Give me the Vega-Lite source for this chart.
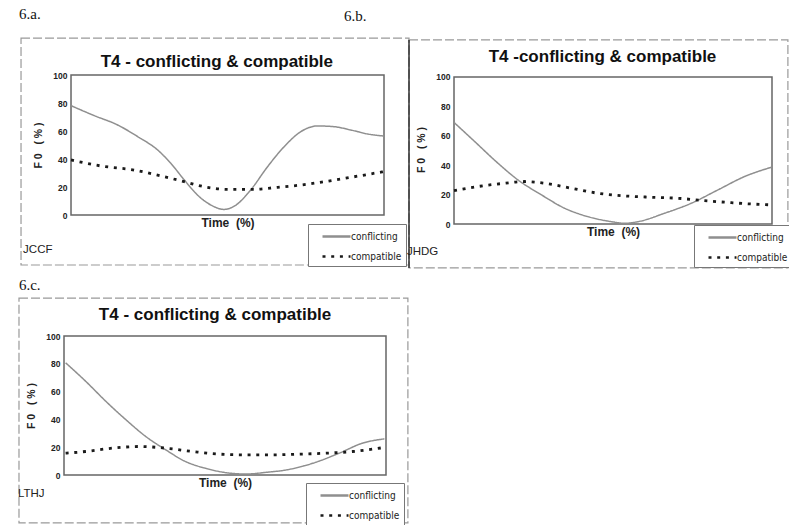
{
  "$schema": "https://vega.github.io/schema/vega-lite/v6.json",
  "background": "white",
  "padding": {"left": 17, "top": 7, "right": 0, "bottom": 0},
  "datasets": {
    "a": [
      {"time": 0, "f0": 78.1, "series": "conflicting"}, {"time": 7.4, "f0": 71, "series": "conflicting"}, {"time": 14.9, "f0": 64.3, "series": "conflicting"}, {"time": 21.3, "f0": 56, "series": "conflicting"}, {"time": 27.7, "f0": 46.4, "series": "conflicting"}, {"time": 31.9, "f0": 36.9, "series": "conflicting"}, {"time": 36.2, "f0": 25, "series": "conflicting"}, {"time": 40.4, "f0": 14.3, "series": "conflicting"}, {"time": 44.7, "f0": 7.1, "series": "conflicting"}, {"time": 48.9, "f0": 4, "series": "conflicting"}, {"time": 52.7, "f0": 7.1, "series": "conflicting"}, {"time": 57.4, "f0": 17.9, "series": "conflicting"}, {"time": 62.8, "f0": 34.5, "series": "conflicting"}, {"time": 68.1, "f0": 48.8, "series": "conflicting"}, {"time": 73.4, "f0": 59.5, "series": "conflicting"}, {"time": 78.7, "f0": 63.6, "series": "conflicting"}, {"time": 84, "f0": 63.1, "series": "conflicting"}, {"time": 89.4, "f0": 60.7, "series": "conflicting"}, {"time": 94.7, "f0": 57.9, "series": "conflicting"}, {"time": 100, "f0": 56.4, "series": "conflicting"},
      {"time": 0, "f0": 39.3, "series": "compatible"}, {"time": 9.6, "f0": 35, "series": "compatible"}, {"time": 20.2, "f0": 32.1, "series": "compatible"}, {"time": 28.7, "f0": 27.9, "series": "compatible"}, {"time": 36.2, "f0": 23.8, "series": "compatible"}, {"time": 42.6, "f0": 20.2, "series": "compatible"}, {"time": 50, "f0": 18.3, "series": "compatible"}, {"time": 58.5, "f0": 18.3, "series": "compatible"}, {"time": 66, "f0": 19.8, "series": "compatible"}, {"time": 73.4, "f0": 21.4, "series": "compatible"}, {"time": 80.9, "f0": 23.8, "series": "compatible"}, {"time": 89.4, "f0": 26.9, "series": "compatible"}, {"time": 97.9, "f0": 30.2, "series": "compatible"}, {"time": 100, "f0": 31, "series": "compatible"}
    ],
    "b": [
      {"time": 0, "f0": 69.1, "series": "conflicting"}, {"time": 6.5, "f0": 56.1, "series": "conflicting"}, {"time": 13.8, "f0": 41.4, "series": "conflicting"}, {"time": 20.1, "f0": 30, "series": "conflicting"}, {"time": 27.5, "f0": 19.8, "series": "conflicting"}, {"time": 34.8, "f0": 10.7, "series": "conflicting"}, {"time": 42.1, "f0": 5, "series": "conflicting"}, {"time": 49.5, "f0": 1.6, "series": "conflicting"}, {"time": 53.7, "f0": 0.5, "series": "conflicting"}, {"time": 57.9, "f0": 1.6, "series": "conflicting"}, {"time": 66.2, "f0": 7.3, "series": "conflicting"}, {"time": 74.6, "f0": 14.1, "series": "conflicting"}, {"time": 83, "f0": 23.2, "series": "conflicting"}, {"time": 91.4, "f0": 32.3, "series": "conflicting"}, {"time": 99.8, "f0": 38.6, "series": "conflicting"},
      {"time": 0, "f0": 22.7, "series": "compatible"}, {"time": 7.5, "f0": 25.5, "series": "compatible"}, {"time": 15.9, "f0": 27.7, "series": "compatible"}, {"time": 22.2, "f0": 28.9, "series": "compatible"}, {"time": 28.5, "f0": 27.7, "series": "compatible"}, {"time": 36.9, "f0": 24.3, "series": "compatible"}, {"time": 45.3, "f0": 20.9, "series": "compatible"}, {"time": 53.7, "f0": 19.1, "series": "compatible"}, {"time": 62.1, "f0": 18.2, "series": "compatible"}, {"time": 70.4, "f0": 17.5, "series": "compatible"}, {"time": 78.8, "f0": 15.9, "series": "compatible"}, {"time": 87.2, "f0": 14.5, "series": "compatible"}, {"time": 93.5, "f0": 13.6, "series": "compatible"}, {"time": 99.8, "f0": 13, "series": "compatible"}
    ],
    "c": [
      {"time": 0.5, "f0": 80.7, "series": "conflicting"}, {"time": 6.7, "f0": 67.5, "series": "conflicting"}, {"time": 13, "f0": 53, "series": "conflicting"}, {"time": 19.2, "f0": 39.8, "series": "conflicting"}, {"time": 25.4, "f0": 27.7, "series": "conflicting"}, {"time": 31.6, "f0": 18.1, "series": "conflicting"}, {"time": 37.8, "f0": 9.6, "series": "conflicting"}, {"time": 44, "f0": 4.8, "series": "conflicting"}, {"time": 50.3, "f0": 1.7, "series": "conflicting"}, {"time": 56.5, "f0": 0.7, "series": "conflicting"}, {"time": 62.7, "f0": 1.9, "series": "conflicting"}, {"time": 68.9, "f0": 3.6, "series": "conflicting"}, {"time": 77.2, "f0": 8.4, "series": "conflicting"}, {"time": 85.5, "f0": 15.7, "series": "conflicting"}, {"time": 92.7, "f0": 22.9, "series": "conflicting"}, {"time": 99.5, "f0": 26, "series": "conflicting"},
      {"time": 0.5, "f0": 15.7, "series": "compatible"}, {"time": 6.7, "f0": 16.9, "series": "compatible"}, {"time": 15, "f0": 19.3, "series": "compatible"}, {"time": 23.3, "f0": 20.5, "series": "compatible"}, {"time": 31.6, "f0": 19.3, "series": "compatible"}, {"time": 39.9, "f0": 16.9, "series": "compatible"}, {"time": 48.2, "f0": 15, "series": "compatible"}, {"time": 56.5, "f0": 14.5, "series": "compatible"}, {"time": 64.8, "f0": 14.5, "series": "compatible"}, {"time": 73.1, "f0": 15, "series": "compatible"}, {"time": 81.3, "f0": 15.7, "series": "compatible"}, {"time": 89.6, "f0": 16.9, "series": "compatible"}, {"time": 99.5, "f0": 19.8, "series": "compatible"}
    ]
  },
  "columns": 2,
  "bounds": "flush",
  "spacing": {"row": 112, "column": 68},
  "resolve": {
    "scale": {"x": "independent", "y": "independent", "color": "independent", "strokeDash": "independent"},
    "legend": {"color": "independent", "strokeDash": "independent"}
  },
  "config": {
    "view": {"stroke": null},
    "font": "Liberation Sans",
    "axis": {"grid": false, "domain": false, "ticks": false},
    "axisY": {"values": [0, 20, 40, 60, 80, 100], "labelFontSize": 8.5, "labelFontWeight": "bold", "labelColor": "#222", "labelPadding": 4, "titleFontSize": 10.5, "titleFontWeight": "bold", "titleColor": "#222", "titlePadding": 9},
    "axisX": {"labels": false, "titleFontSize": 12, "titleFontWeight": "bold", "titleColor": "#222", "titlePadding": 2},
    "legend": {"orient": "none", "strokeColor": "#777", "fillColor": "white", "padding": 4, "symbolType": "M-2,0H2", "symbolSize": 196, "symbolStrokeWidth": 2.4, "labelFontSize": 10, "labelColor": "#222", "labelFont": "Liberation Sans Narrow, DejaVu Sans Condensed, Liberation Sans", "rowPadding": 6, "symbolOffset": 16, "labelOffset": 6}
  },
  "concat": [
    {
      "width": 320, "height": 140,
      "layer": [
        {"data": {"values": [{}]}, "mark": {"type": "rect", "fillOpacity": 0, "stroke": "#999", "strokeWidth": 1.2, "strokeDash": [9, 3]},
         "encoding": {"x": {"datum": -15.97, "type": "quantitative"}, "x2": {"datum": 107.99}, "y": {"datum": 126.4, "type": "quantitative"}, "y2": {"datum": -35.7}}},
        {"data": {"values": [{}]}, "mark": {"type": "rect", "fillOpacity": 0, "stroke": "#666", "strokeWidth": 1.5},
         "encoding": {"x": {"datum": 0, "type": "quantitative"}, "x2": {"datum": 100}, "y": {"datum": 0, "type": "quantitative"}, "y2": {"datum": 100}}},
        {"data": {"name": "a"}, "mark": {"type": "line", "interpolate": "monotone", "strokeCap": "butt"},
         "encoding": {
           "x": {"field": "time", "type": "quantitative", "scale": {"domain": [-2.24, 100], "nice": false, "zero": false}, "axis": {"title": "Time\u00a0\u00a0(%)", "titleX": 163.5}},
           "y": {"field": "f0", "type": "quantitative", "scale": {"domain": [0, 100], "nice": false}, "axis": {"title": "F\u00a00\u00a0\u00a0\u00a0(\u00a0%\u00a0)", "offset": -7}},
           "color": {"field": "series", "type": "nominal", "scale": {"domain": ["conflicting", "compatible"], "range": ["#8f8f8f", "#1a1a1a"]}, "legend": {"title": null, "legendX": 244, "legendY": 149}},
           "strokeDash": {"field": "series", "type": "nominal", "scale": {"domain": ["conflicting", "compatible"], "range": [[1, 0], [3, 5.7]]}, "legend": {"title": null, "legendX": 244, "legendY": 149}},
           "strokeWidth": {"condition": {"test": "datum.series === 'compatible'", "value": 2.8}, "value": 1.5}
         }},
        {"data": {"values": [{}]}, "mark": {"type": "text", "fontSize": 17, "fontWeight": "bold", "color": "#111", "align": "center", "baseline": "alphabetic"},
         "encoding": {"x": {"datum": 46.6, "type": "quantitative"}, "y": {"datum": 105.9, "type": "quantitative"}, "text": {"value": "T4 - conflicting & compatible"}}},
        {"data": {"values": [{}]}, "mark": {"type": "text", "fontSize": 11.5, "color": "#222", "align": "left", "baseline": "alphabetic"},
         "encoding": {"x": {"datum": -15.3, "type": "quantitative"}, "y": {"datum": -27.1, "type": "quantitative"}, "text": {"value": "JCCF"}}},
        {"data": {"values": [{}]}, "mark": {"type": "text", "fontSize": 15, "font": "Liberation Serif", "color": "#111", "align": "left", "baseline": "alphabetic"},
         "encoding": {"x": {"datum": -16.6, "type": "quantitative"}, "y": {"datum": 140, "type": "quantitative"}, "text": {"value": "6.a."}}},
        {"data": {"values": [{}]}, "mark": {"type": "text", "fontSize": 15, "font": "Liberation Serif", "color": "#111", "align": "left", "baseline": "alphabetic"},
         "encoding": {"x": {"datum": 87.2, "type": "quantitative"}, "y": {"datum": 138.6, "type": "quantitative"}, "text": {"value": "6.b."}}}
      ]
    },
    {
      "width": 318, "height": 149,
      "layer": [
        {"data": {"values": [{}]}, "mark": {"type": "rect", "fillOpacity": 0, "stroke": "#999", "strokeWidth": 1.2, "strokeDash": [9, 3]},
         "encoding": {"x": {"datum": -14.15, "type": "quantitative"}, "x2": {"datum": 105.0}, "y": {"datum": 125.2, "type": "quantitative"}, "y2": {"datum": -29.9}}},
        {"data": {"values": [{}]}, "mark": {"type": "rule", "stroke": "#333", "strokeWidth": 1.5},
         "encoding": {"x": {"datum": -14.15, "type": "quantitative"}, "y": {"datum": 125.2, "type": "quantitative"}, "y2": {"datum": -29.9}}},
        {"data": {"values": [{}]}, "mark": {"type": "rect", "fillOpacity": 0, "stroke": "#666", "strokeWidth": 1.5},
         "encoding": {"x": {"datum": 0, "type": "quantitative"}, "x2": {"datum": 100}, "y": {"datum": 0, "type": "quantitative"}, "y2": {"datum": 100}}},
        {"data": {"name": "b"}, "mark": {"type": "line", "interpolate": "monotone", "strokeCap": "butt"},
         "encoding": {
           "x": {"field": "time", "type": "quantitative", "scale": {"domain": [0, 100], "nice": false, "zero": false}, "axis": {"title": "Time\u00a0\u00a0(%)"}},
           "y": {"field": "f0", "type": "quantitative", "scale": {"domain": [0, 101.36], "nice": false}, "axis": {"title": "F\u00a00\u00a0\u00a0\u00a0(\u00a0%\u00a0)"}},
           "color": {"field": "series", "type": "nominal", "scale": {"domain": ["conflicting", "compatible"], "range": ["#8f8f8f", "#1a1a1a"]}, "legend": {"title": null, "legendX": 240, "legendY": 150}},
           "strokeDash": {"field": "series", "type": "nominal", "scale": {"domain": ["conflicting", "compatible"], "range": [[1, 0], [3, 5.7]]}, "legend": {"title": null, "legendX": 240, "legendY": 150}},
           "strokeWidth": {"condition": {"test": "datum.series === 'compatible'", "value": 2.8}, "value": 1.5}
         }},
        {"data": {"values": [{}]}, "mark": {"type": "text", "fontSize": 17, "fontWeight": "bold", "color": "#111", "align": "center", "baseline": "alphabetic"},
         "encoding": {"x": {"datum": 46.7, "type": "quantitative"}, "y": {"datum": 110.4, "type": "quantitative"}, "text": {"value": "T4 -conflicting & compatible"}}},
        {"data": {"values": [{}]}, "mark": {"type": "text", "fontSize": 11.5, "color": "#222", "align": "left", "baseline": "alphabetic"},
         "encoding": {"x": {"datum": -14.8, "type": "quantitative"}, "y": {"datum": -21.1, "type": "quantitative"}, "text": {"value": "JHDG"}}}
      ]
    },
    {
      "width": 322, "height": 139,
      "layer": [
        {"data": {"values": [{}]}, "mark": {"type": "rect", "fillOpacity": 0, "stroke": "#999", "strokeWidth": 1.2, "strokeDash": [9, 3]},
         "encoding": {"x": {"datum": -13.98, "type": "quantitative"}, "x2": {"datum": 106.8}, "y": {"datum": 127.3, "type": "quantitative"}, "y2": {"datum": -34.5}}},
        {"data": {"values": [{}]}, "mark": {"type": "rect", "fillOpacity": 0, "stroke": "#666", "strokeWidth": 1.5},
         "encoding": {"x": {"datum": 0, "type": "quantitative"}, "x2": {"datum": 100}, "y": {"datum": 0, "type": "quantitative"}, "y2": {"datum": 100}}},
        {"data": {"name": "c"}, "mark": {"type": "line", "interpolate": "monotone", "strokeCap": "butt"},
         "encoding": {
           "x": {"field": "time", "type": "quantitative", "scale": {"domain": [0, 100], "nice": false, "zero": false}, "axis": {"title": "Time\u00a0\u00a0(%)"}},
           "y": {"field": "f0", "type": "quantitative", "scale": {"domain": [0, 100], "nice": false}, "axis": {"title": "F\u00a00\u00a0\u00a0\u00a0(\u00a0%\u00a0)"}},
           "color": {"field": "series", "type": "nominal", "scale": {"domain": ["conflicting", "compatible"], "range": ["#8f8f8f", "#1a1a1a"]}, "legend": {"title": null, "legendX": 242, "legendY": 147}},
           "strokeDash": {"field": "series", "type": "nominal", "scale": {"domain": ["conflicting", "compatible"], "range": [[1, 0], [3, 5.7]]}, "legend": {"title": null, "legendX": 242, "legendY": 147}},
           "strokeWidth": {"condition": {"test": "datum.series === 'compatible'", "value": 2.8}, "value": 1.5}
         }},
        {"data": {"values": [{}]}, "mark": {"type": "text", "fontSize": 17, "fontWeight": "bold", "color": "#111", "align": "center", "baseline": "alphabetic"},
         "encoding": {"x": {"datum": 46.9, "type": "quantitative"}, "y": {"datum": 111.5, "type": "quantitative"}, "text": {"value": "T4 - conflicting & compatible"}}},
        {"data": {"values": [{}]}, "mark": {"type": "text", "fontSize": 11.5, "color": "#222", "align": "left", "baseline": "alphabetic"},
         "encoding": {"x": {"datum": -14.3, "type": "quantitative"}, "y": {"datum": -15.8, "type": "quantitative"}, "text": {"value": "LTHJ"}}},
        {"data": {"values": [{}]}, "mark": {"type": "text", "fontSize": 15, "font": "Liberation Serif", "color": "#111", "align": "left", "baseline": "alphabetic"},
         "encoding": {"x": {"datum": -14.0, "type": "quantitative"}, "y": {"datum": 133.1, "type": "quantitative"}, "text": {"value": "6.c."}}}
      ]
    }
  ]
}
